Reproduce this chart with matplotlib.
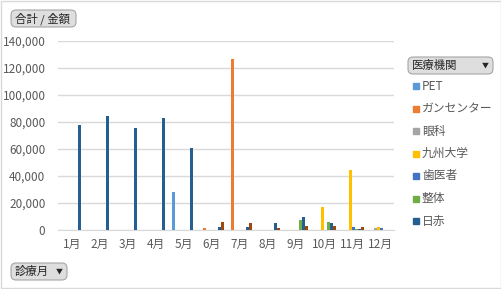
import numpy as np
import matplotlib
matplotlib.use("Agg")
import matplotlib.pyplot as plt
from matplotlib.patches import FancyBboxPatch, Rectangle

plt.rcParams['font.family'] = ['Noto Sans CJK JP', 'DejaVu Sans']

# data
months = ["1月", "2月", "3月", "4月", "5月", "6月", "7月", "8月", "9月", "10月", "11月", "12月"]
pet      = [0, 0, 0, 0, 28000, 0, 0, 0, 0, 0, 0, 0]
gancen   = [0, 0, 0, 0, 0, 1500, 127000, 0, 0, 0, 0, 0]
ganka    = [0, 0, 0, 0, 0, 0, 0, 0, 0, 0, 0, 1500]
kyudai   = [0, 0, 0, 0, 0, 0, 0, 0, 0, 17000, 44500, 2200]
shika    = [0, 0, 0, 0, 0, 0, 0, 0, 0, 0, 2200, 1500]
seitai   = [0, 0, 0, 0, 0, 0, 0, 0, 7400, 5900, 800, 0]
nisseki  = [78000, 84500, 75500, 83000, 60700, 2200, 2200, 5200, 9600, 5200, 800, 0]
other    = [0, 0, 0, 0, 0, 6000, 5200, 1500, 3000, 3000, 2200, 0]  # 8th series, legend entry cut off

series = [pet, gancen, ganka, kyudai, shika, seitai, nisseki, other]
names = ["PET", "ガンセンター", "眼科", "九州大学", "歯医者", "整体", "日赤", ""]
colors = ["#5B9BD5", "#ED7D31", "#A5A5A5", "#FFC000", "#4472C4", "#70AD47", "#255E91", "#9E480E"]

W, H = 502, 289
fig = plt.figure(figsize=(W / 100, H / 100), dpi=100)

def fx(x):
    return x / W

def fy(y):
    return 1 - y / H

# plot area in pixels: left 58, right 394, top 41, bottom 230
ax = fig.add_axes([fx(58), fy(230), fx(394) - fx(58), fy(41) - fy(230)])

x = np.arange(len(months))
bw = 1 / (len(series) + 1.5)
for i, (vals, c) in enumerate(zip(series, colors)):
    ax.bar(x + (i - (len(series) - 1) / 2) * bw, vals, width=bw, color=c, linewidth=0, zorder=3)

ax.set_xlim(-0.5, len(months) - 0.5)
ax.set_ylim(0, 140000)
ax.set_yticks(np.arange(0, 140001, 20000))
ax.yaxis.set_major_formatter(matplotlib.ticker.FuncFormatter(lambda v, p: f"{int(v):,}"))
ax.set_xticks(x)
ax.set_xticklabels(months)
ax.tick_params(length=0, labelsize=8.5, colors="#595959", pad=6)
ax.tick_params(axis="y", pad=9)
ax.grid(axis="y", color="#D9D9D9", linewidth=1, zorder=0)
for s in ["top", "right", "left"]:
    ax.spines[s].set_visible(False)
ax.spines["bottom"].set_color("#D9D9D9")

# legend (drawn by hand, list is cut after 日赤 in the original)
for i in range(7):
    yc = 86 + i * 22.5
    fig.patches.append(Rectangle((fx(413), fy(yc + 3)), fx(6), fy(0) - fy(6),
                                 transform=fig.transFigure, color=colors[i]))
    fig.text(fx(422), fy(yc), names[i], fontsize=8.5, color="#595959", va="center", ha="left")

# field buttons
def button(x0, y0, x1, y1, label, arrow=False):
    b = FancyBboxPatch((fx(x0), fy(y1)), fx(x1 - x0), fy(y0) - fy(y1),
                       boxstyle="round,pad=0,rounding_size=0.01", mutation_aspect=W / H,
                       transform=fig.transFigure, facecolor="#DEDEDE", edgecolor="#A6A6A6", linewidth=0.8)
    fig.patches.append(b)
    fig.text(fx(x0 + 4), fy((y0 + y1) / 2), label, fontsize=8.2, color="#262626", va="center", ha="left")
    if arrow:
        fig.text(fx(x1 - 8), fy((y0 + y1) / 2), "▼", fontsize=5, color="#262626", va="center", ha="center")

button(11, 10, 76, 27, "合計 / 金額")
button(408, 57, 493, 74, "医療機関", arrow=True)
button(11, 263, 67, 280, "診療月", arrow=True)

# chart border
fig.patches.append(Rectangle((0.001, 0.002), 0.997, 0.995, transform=fig.transFigure,
                             fill=False, edgecolor="#D9D9D9", linewidth=1))

fig.savefig("out.png", dpi=100)
